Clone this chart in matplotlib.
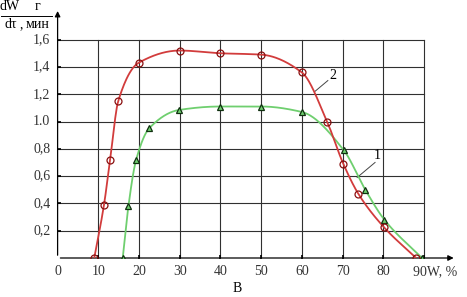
import numpy as np
import matplotlib
matplotlib.use("Agg")
import matplotlib.pyplot as plt

# Curve 2 (red, circles) and curve 1 (green, triangles): moisture W, % vs dW/dτ, г/мин
w_curve2 = [9, 11.4, 12.9, 14.9, 19.9, 30, 40, 50, 60, 66.2, 70.2, 73.9, 80.2, 88.1]
rate_curve2 = [0.0, 0.39, 0.72, 1.15, 1.43, 1.52, 1.50, 1.49, 1.36, 1.00, 0.69, 0.47, 0.225, 0.0]
w_curve1 = [16, 17.4, 19.3, 22.5, 29.9, 40, 50, 60, 70.3, 75.6, 80.3, 89.5]
rate_curve1 = [0.0, 0.38, 0.72, 0.95, 1.085, 1.11, 1.11, 1.07, 0.79, 0.50, 0.28, 0.0]

x_ticks = [0, 10, 20, 30, 40, 50, 60, 70, 80, 90]
x_tick_labels = ["0", "10", "20", "30", "40", "50", "60", "70", "80", "90W, %"]
y_ticks = [0.2, 0.4, 0.6, 0.8, 1.0, 1.2, 1.4, 1.6]
y_tick_labels = ["0,2", "0,4", "0,6", "0,8", "1.0", "1,2", "1,4", "1,6"]

RED = "#d23c3c"
RED_EDGE = "#8a1010"
GREEN = "#6fcf6f"
SERIF = "Liberation Serif"
FS = 10


def pchip(x, y, xs):
    """Monotone cubic curve through the measured points (for drawing only)."""
    x = np.asarray(x, float)
    y = np.asarray(y, float)
    h = np.diff(x)
    d = np.diff(y) / h
    m = np.zeros_like(y)
    for k in range(1, len(x) - 1):
        if d[k - 1] * d[k] > 0:
            w1 = 2 * h[k] + h[k - 1]
            w2 = h[k] + 2 * h[k - 1]
            m[k] = (w1 + w2) / (w1 / d[k - 1] + w2 / d[k])
    m[0], m[-1] = d[0], d[-1]
    idx = np.clip(np.searchsorted(x, xs) - 1, 0, len(x) - 2)
    t = (xs - x[idx]) / h[idx]
    h00 = 2 * t**3 - 3 * t**2 + 1
    h10 = t**3 - 2 * t**2 + t
    h01 = -2 * t**3 + 3 * t**2
    h11 = t**3 - t**2
    return h00 * y[idx] + h10 * h[idx] * m[idx] + h01 * y[idx + 1] + h11 * h[idx] * m[idx + 1]


fig = plt.figure(figsize=(4.67, 2.97), dpi=100)
ax = fig.add_axes([57.6 / 467, 39 / 297, 407 / 467, 252.5 / 297])
ax.set_xlim(0, 100)
ax.set_ylim(0, 1.85)
ax.axis("off")

# grid box
for xv in x_ticks[1:]:
    ax.plot([xv, xv], [0, 1.6], color="#303030", lw=0.8, zorder=1)
for yv in y_ticks:
    ax.plot([0, 90], [yv, yv], color="#303030", lw=0.8, zorder=1)

# axes with arrows
ax.annotate("", xy=(98, 0), xytext=(0, 0),
            arrowprops=dict(arrowstyle="-|>", color="black", lw=0.9, mutation_scale=8),
            zorder=2)
ax.annotate("", xy=(0, 1.83), xytext=(0, 0),
            arrowprops=dict(arrowstyle="-|>", color="black", lw=0.9, mutation_scale=8),
            zorder=2)
ax.plot(x_ticks[1:], [0] * 9, ls="none", marker="|", ms=4, color="black", mew=1.2)
ax.plot([0] * len(y_ticks), y_ticks, ls="none", marker="_", ms=4, color="black", mew=1.2)

for xv, lab in zip(x_ticks, x_tick_labels):
    if lab.startswith("90"):
        ax.text(87.4, -0.05, lab, ha="left", va="top", fontsize=FS, family=SERIF,
                color="#333333")
    else:
        ax.text(xv, -0.05, lab, ha="center", va="top", fontsize=FS, family=SERIF,
                color="#333333")
for yv, lab in zip(y_ticks, y_tick_labels):
    ax.text(-1.8, yv, lab, ha="right", va="center", fontsize=FS, family=SERIF,
            color="#333333")

# curves
xs2 = np.linspace(w_curve2[0], w_curve2[-1], 400)
xs1 = np.linspace(w_curve1[0], w_curve1[-1], 400)
ax.plot(xs1, pchip(w_curve1, rate_curve1, xs1), color=GREEN, lw=1.3, zorder=3)
ax.plot(xs2, pchip(w_curve2, rate_curve2, xs2), color=RED, lw=1.3, zorder=3)
ax.plot(w_curve1, rate_curve1, ls="none", marker="^", ms=5, mfc=GREEN,
        mec="#103010", mew=0.9, zorder=4)
ax.plot(w_curve2, rate_curve2, ls="none", marker="o", ms=5, mfc="none",
        mec=RED_EDGE, mew=0.9, zorder=4)

# curve numbers with leader lines
ax.plot([63.2, 66.4], [1.22, 1.30], color="#444444", lw=0.7)
ax.text(67.6, 1.34, "2", fontsize=FS, family=SERIF, ha="center", va="center")
ax.plot([73.6, 78.0], [0.59, 0.70], color="#444444", lw=0.7)
ax.text(78.6, 0.75, "1", fontsize=FS, family=SERIF, ha="center", va="center")

# y-axis label as two fractions: dW/dτ , г/мин
fig.text(9.5 / 467, 1 - 7 / 297, "dW", fontsize=FS, family=SERIF, ha="center", va="center")
fig.text(11 / 467, 1 - 24 / 297, "dτ", fontsize=FS, family=SERIF, ha="center", va="center")
fig.text(21 / 467, 1 - 25 / 297, ",", fontsize=FS, family=SERIF, ha="center", va="center")
fig.text(38 / 467, 1 - 7 / 297, "г", fontsize=FS, family=SERIF, ha="center", va="center")
fig.text(38 / 467, 1 - 24 / 297, "мин", fontsize=FS, family=SERIF, ha="center", va="center")
fig.add_artist(plt.Line2D([1 / 467, 52 / 467], [1 - 16 / 297, 1 - 16 / 297],
                          color="black", lw=0.7))

fig.text(237 / 467, 1 - 289 / 297, "В", fontsize=FS, family=SERIF, ha="center", va="center")

fig.savefig("out.png", dpi=100, facecolor="white")
